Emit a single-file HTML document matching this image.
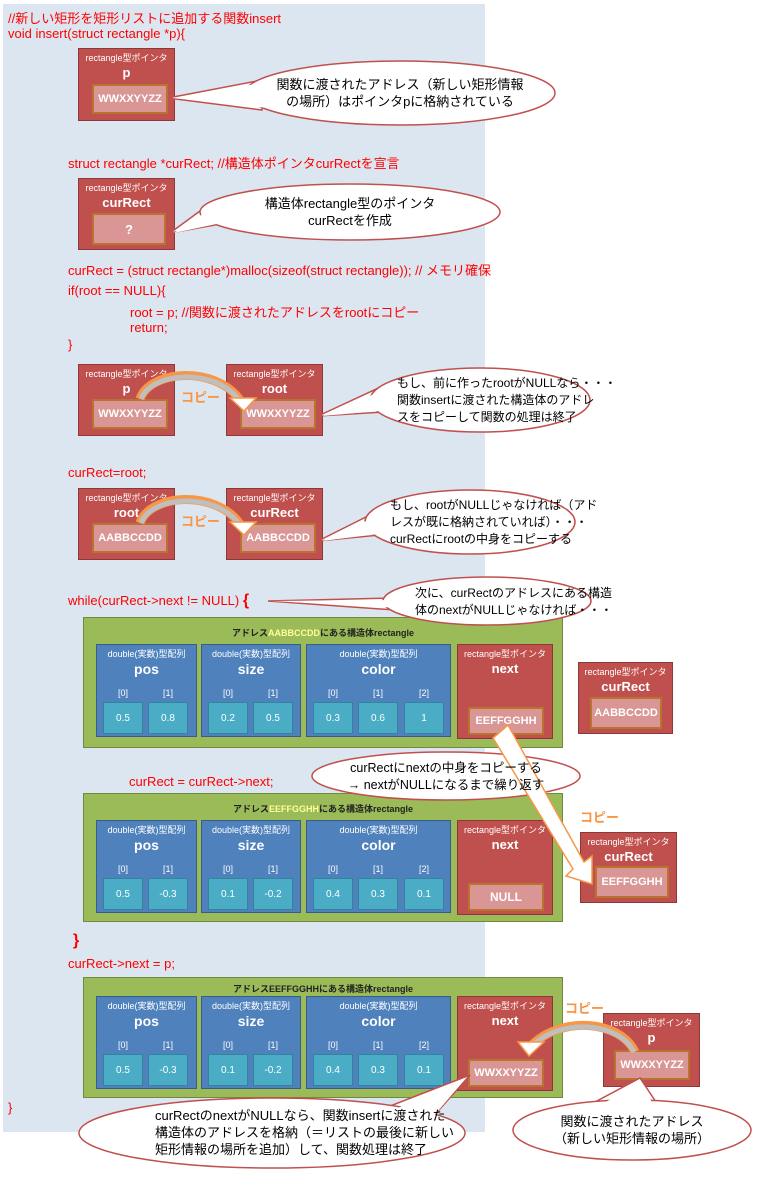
<!DOCTYPE html>
<html><head><meta charset="utf-8">
<style>
*{margin:0;padding:0;box-sizing:border-box}
body{width:771px;height:1177px;position:relative;background:#fff;font-family:"Liberation Sans","Noto Sans CJK JP",sans-serif;overflow:hidden}
.a{position:absolute;white-space:nowrap}
.code{position:absolute;white-space:nowrap;color:#f00;font-size:13px}
.ptr{position:absolute;background:#c0504d;border:1px solid #8c3836;color:#fff;text-align:center}
.ptr .t{font-size:9px;margin-top:4px;line-height:11px}
.ptr .n{font-size:13px;font-weight:bold;line-height:17px}
.ptr .v{position:absolute;background:#d99694;border:2px solid #b8732f;font-weight:bold;font-size:11px;color:#fff;display:flex;align-items:center;justify-content:center}
.st{position:absolute;left:83px;width:480px;background:#9bbb59;border:1px solid #71893f}
.st .ti{position:absolute;left:0;right:0;top:8px;text-align:center;font-size:9px;font-weight:bold;color:#222}
.bl{position:absolute;top:26px;height:93px;background:#4f81bd;border:1px solid #385d8a;color:#fff;text-align:center}
.bl .t{font-size:9px;margin-top:4px;line-height:11px}
.bl .n{font-size:14px;font-weight:bold;line-height:18px}
.ix{position:absolute;top:43px;font-size:9px;width:40px;text-align:center}
.c{position:absolute;top:57px;width:40px;height:32px;background:#4bacc6;border:1px solid #31849b;font-size:10px;display:flex;align-items:center;justify-content:center;color:#fff}
.nx{position:absolute;left:373px;top:26px;width:96px;height:95px}
.ct{position:absolute;text-align:center;font-size:13px;line-height:17px;color:#000;white-space:nowrap}
.cp{position:absolute;color:#f79646;font-size:13px;font-weight:bold}
</style></head><body>
<div class="a" style="left:3px;top:4px;width:482px;height:1128px;background:#dce6f1"></div>

<div class="code" style="left:8px;top:8px">//新しい矩形を矩形リストに追加する関数insert</div>
<div class="code" style="left:8px;top:26px">void insert(struct rectangle *p){</div>

<div class="ptr" style="left:78px;top:48px;width:97px;height:73px"><div class="t">rectangle型ポインタ</div><div class="n">p</div><div class="v" style="left:13px;top:35px;width:76px;height:30px">WWXXYYZZ</div></div>

<div class="code" style="left:68px;top:153px">struct rectangle *curRect; //構造体ポインタcurRectを宣言</div>
<div class="ptr" style="left:78px;top:178px;width:97px;height:72px"><div class="t">rectangle型ポインタ</div><div class="n">curRect</div><div class="v" style="left:13px;top:34px;width:74px;height:32px;font-size:13px">?</div></div>

<div class="code" style="left:68px;top:260px">curRect = (struct rectangle*)malloc(sizeof(struct rectangle)); // メモリ確保</div>
<div class="code" style="left:68px;top:283px">if(root == NULL){</div>
<div class="code" style="left:130px;top:302px">root = p; //関数に渡されたアドレスをrootにコピー</div>
<div class="code" style="left:130px;top:320px">return;</div>
<div class="code" style="left:68px;top:337px">}</div>

<div class="ptr" style="left:78px;top:364px;width:97px;height:72px"><div class="t">rectangle型ポインタ</div><div class="n">p</div><div class="v" style="left:13px;top:34px;width:76px;height:30px">WWXXYYZZ</div></div>
<div class="ptr" style="left:226px;top:364px;width:97px;height:72px"><div class="t">rectangle型ポインタ</div><div class="n">root</div><div class="v" style="left:13px;top:34px;width:76px;height:30px">WWXXYYZZ</div></div>
<div class="cp" style="left:181px;top:387px">コピー</div>

<div class="code" style="left:68px;top:465px">curRect=root;</div>
<div class="ptr" style="left:78px;top:488px;width:97px;height:72px"><div class="t">rectangle型ポインタ</div><div class="n">root</div><div class="v" style="left:13px;top:34px;width:76px;height:30px">AABBCCDD</div></div>
<div class="ptr" style="left:226px;top:488px;width:97px;height:72px"><div class="t">rectangle型ポインタ</div><div class="n">curRect</div><div class="v" style="left:13px;top:34px;width:76px;height:30px">AABBCCDD</div></div>
<div class="cp" style="left:181px;top:511px">コピー</div>

<div class="code" style="left:68px;top:592px">while(curRect-&gt;next != NULL) <b style="font-size:16px">{</b></div>

<!-- struct 1 -->
<div class="st" style="top:617px;height:131px">
<div class="ti">アドレス<span style="color:#ffff99">AABBCCDD</span>にある構造体rectangle</div>
<div class="bl" style="left:12px;width:101px"><div class="t">double(実数)型配列</div><div class="n">pos</div><div class="ix" style="left:6px">[0]</div><div class="ix" style="left:51px">[1]</div><div class="c" style="left:6px">0.5</div><div class="c" style="left:51px">0.8</div></div>
<div class="bl" style="left:117px;width:100px"><div class="t">double(実数)型配列</div><div class="n">size</div><div class="ix" style="left:6px">[0]</div><div class="ix" style="left:51px">[1]</div><div class="c" style="left:6px">0.2</div><div class="c" style="left:51px">0.5</div></div>
<div class="bl" style="left:222px;width:145px"><div class="t">double(実数)型配列</div><div class="n">color</div><div class="ix" style="left:6px">[0]</div><div class="ix" style="left:51px">[1]</div><div class="ix" style="left:97px">[2]</div><div class="c" style="left:6px">0.3</div><div class="c" style="left:51px">0.6</div><div class="c" style="left:97px">1</div></div>
<div class="ptr nx"><div class="t">rectangle型ポインタ</div><div class="n">next</div><div class="v" style="left:10px;top:62px;width:76px;height:28px">EEFFGGHH</div></div>
</div>
<div class="ptr" style="left:578px;top:662px;width:95px;height:72px"><div class="t">rectangle型ポインタ</div><div class="n">curRect</div><div class="v" style="left:11px;top:34px;width:72px;height:32px">AABBCCDD</div></div>

<div class="code" style="left:129px;top:774px">curRect = curRect-&gt;next;</div>

<!-- struct 2 -->
<div class="st" style="top:793px;height:129px">
<div class="ti">アドレス<span style="color:#ffff99">EEFFGGHH</span>にある構造体rectangle</div>
<div class="bl" style="left:12px;width:101px"><div class="t">double(実数)型配列</div><div class="n">pos</div><div class="ix" style="left:6px">[0]</div><div class="ix" style="left:51px">[1]</div><div class="c" style="left:6px">0.5</div><div class="c" style="left:51px">-0.3</div></div>
<div class="bl" style="left:117px;width:100px"><div class="t">double(実数)型配列</div><div class="n">size</div><div class="ix" style="left:6px">[0]</div><div class="ix" style="left:51px">[1]</div><div class="c" style="left:6px">0.1</div><div class="c" style="left:51px">-0.2</div></div>
<div class="bl" style="left:222px;width:145px"><div class="t">double(実数)型配列</div><div class="n">color</div><div class="ix" style="left:6px">[0]</div><div class="ix" style="left:51px">[1]</div><div class="ix" style="left:97px">[2]</div><div class="c" style="left:6px">0.4</div><div class="c" style="left:51px">0.3</div><div class="c" style="left:97px">0.1</div></div>
<div class="ptr nx"><div class="t">rectangle型ポインタ</div><div class="n">next</div><div class="v" style="left:10px;top:62px;width:76px;height:28px;font-size:12px">NULL</div></div>
</div>
<div class="ptr" style="left:580px;top:832px;width:97px;height:71px"><div class="t">rectangle型ポインタ</div><div class="n">curRect</div><div class="v" style="left:14px;top:33px;width:74px;height:32px">EEFFGGHH</div></div>
<div class="cp" style="left:580px;top:807px">コピー</div>

<div class="code" style="left:73px;top:932px;font-weight:bold;font-size:16px">}</div>
<div class="code" style="left:68px;top:956px">curRect-&gt;next = p;</div>

<!-- struct 3 -->
<div class="st" style="top:977px;height:121px">
<div class="ti" style="top:4px">アドレスEEFFGGHHにある構造体rectangle</div>
<div class="bl" style="left:12px;width:101px;top:18px"><div class="t">double(実数)型配列</div><div class="n">pos</div><div class="ix" style="left:6px">[0]</div><div class="ix" style="left:51px">[1]</div><div class="c" style="left:6px">0.5</div><div class="c" style="left:51px">-0.3</div></div>
<div class="bl" style="left:117px;width:100px;top:18px"><div class="t">double(実数)型配列</div><div class="n">size</div><div class="ix" style="left:6px">[0]</div><div class="ix" style="left:51px">[1]</div><div class="c" style="left:6px">0.1</div><div class="c" style="left:51px">-0.2</div></div>
<div class="bl" style="left:222px;width:145px;top:18px"><div class="t">double(実数)型配列</div><div class="n">color</div><div class="ix" style="left:6px">[0]</div><div class="ix" style="left:51px">[1]</div><div class="ix" style="left:97px">[2]</div><div class="c" style="left:6px">0.4</div><div class="c" style="left:51px">0.3</div><div class="c" style="left:97px">0.1</div></div>
<div class="ptr nx" style="top:18px"><div class="t">rectangle型ポインタ</div><div class="n">next</div><div class="v" style="left:10px;top:62px;width:76px;height:28px">WWXXYYZZ</div></div>
</div>
<div class="ptr" style="left:603px;top:1013px;width:97px;height:74px"><div class="t">rectangle型ポインタ</div><div class="n">p</div><div class="v" style="left:10px;top:36px;width:76px;height:30px">WWXXYYZZ</div></div>
<div class="cp" style="left:565px;top:998px">コピー</div>

<div class="code" style="left:8px;top:1100px">}</div>

<svg class="a" style="left:0;top:0" width="771" height="1177" viewBox="0 0 771 1177">
<g fill="#fff" stroke="#c0504d" stroke-width="1.5">
<polygon points="168,98 262,80 262,110"/><ellipse cx="400" cy="93" rx="155" ry="32"/>
<polygon points="170,233 215,200 215,225"/><ellipse cx="350" cy="212" rx="150" ry="28"/>
<polygon points="318,416 385,385 385,412"/><ellipse cx="480" cy="400" rx="110" ry="32"/>
<polygon points="318,541 380,510 380,535"/><ellipse cx="470" cy="522" rx="105" ry="32"/>
<polygon points="268,601 395,598 395,610"/><ellipse cx="487" cy="601" rx="104" ry="24"/>
<ellipse cx="446" cy="776" rx="134" ry="24"/>
<polygon points="470,1075 380,1110 430,1120"/><ellipse cx="272" cy="1133" rx="193" ry="35"/>
<polygon points="640,1078 580,1110 660,1108"/><ellipse cx="632" cy="1130" rx="119" ry="30"/>
</g>
<g fill="#fff">
<polygon points="172,98 268,82 268,108"/><polygon points="174,233 221,202 221,223"/><polygon points="322,416 391,387 391,410"/><polygon points="322,541 386,512 386,533"/><polygon points="272,601 401,600 401,608"/><polygon points="466,1078 384,1114 432,1118"/><polygon points="640,1083 584,1114 658,1112"/>
</g>
<g fill="none" stroke-linecap="butt">
<path d="M140,399 C150,370 215,365 240,400" stroke="#f79646" stroke-width="9"/>
<path d="M141,399 C151,372 215,367 239,400" stroke="#bfbfbf" stroke-width="5"/>
<path d="M140,523 C150,494 215,489 240,524" stroke="#f79646" stroke-width="9"/>
<path d="M141,523 C151,496 215,491 239,524" stroke="#bfbfbf" stroke-width="5"/>
<path d="M635,1052 C620,1020 560,1015 530,1047" stroke="#f79646" stroke-width="9"/>
<path d="M634,1052 C619,1022 560,1017 531,1047" stroke="#bfbfbf" stroke-width="5"/>
</g>
<g fill="#fff" stroke="#f79646" stroke-width="1.5">
<polygon points="230,398 256,398 244,411"/>
<polygon points="230,522 256,522 244,535"/>
<polygon points="518,1042 544,1042 529,1056"/>
<polygon points="493,738 508,725 584,862 592,856 592,884 566,876 573,869"/>
</g>
</svg>

<div class="ct" style="left:250px;top:76px;width:300px">関数に渡されたアドレス（新しい矩形情報<br>の場所）はポインタpに格納されている</div>
<div class="ct" style="left:200px;top:195px;width:300px">構造体rectangle型のポインタ<br>curRectを作成</div>
<div class="ct" style="left:370px;top:375px;width:220px;text-align:left;padding-left:27px;font-size:12px;line-height:17px">もし、前に作ったrootがNULLなら・・・<br>関数insertに渡された構造体のアドレ<br>スをコピーして関数の処理は終了</div>
<div class="ct" style="left:365px;top:497px;width:210px;text-align:left;padding-left:25px;font-size:12px;line-height:17px">もし、rootがNULLじゃなければ（アド<br>レスが既に格納されていれば）・・・<br>curRectにrootの中身をコピーする</div>
<div class="ct" style="left:383px;top:585px;width:208px;text-align:left;padding-left:32px;font-size:12px;line-height:17px">次に、curRectのアドレスにある構造<br>体のnextがNULLじゃなければ・・・</div>
<div class="ct" style="left:312px;top:760px;width:268px;font-size:12.5px">curRectにnextの中身をコピーする<br>→ nextがNULLになるまで繰り返す</div>
<div class="ct" style="left:80px;top:1107px;width:385px;text-align:left;padding-left:75px">curRectのnextがNULLなら、関数insertに渡された<br>構造体のアドレスを格納（＝リストの最後に新しい<br>矩形情報の場所を追加）して、関数処理は終了</div>
<div class="ct" style="left:513px;top:1113px;width:238px">関数に渡されたアドレス<br>（新しい矩形情報の場所）</div>
</body></html>
